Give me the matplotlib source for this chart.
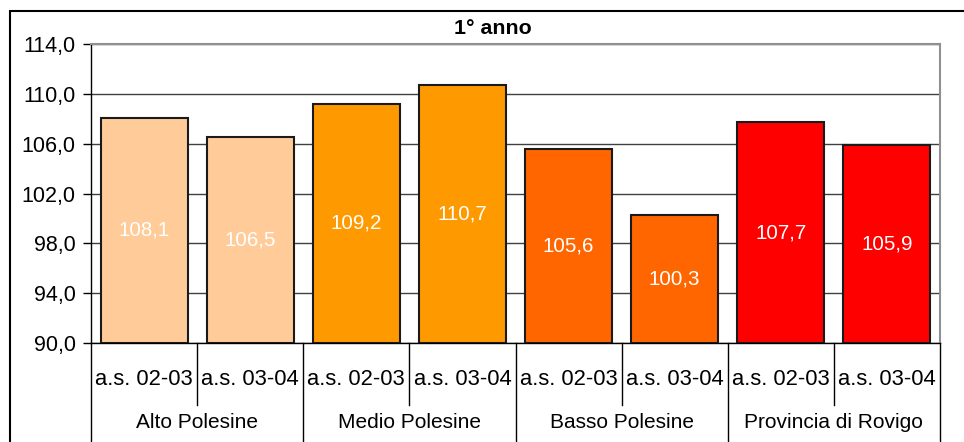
import numpy as np
import matplotlib.pyplot as plt
from matplotlib.patches import Rectangle
import matplotlib.transforms as mtransforms

plt.rcParams['font.family'] = ['Liberation Sans', 'DejaVu Sans']

groups = ['Alto Polesine', 'Medio Polesine', 'Basso Polesine', 'Provincia di Rovigo']
years = ['a.s. 02-03', 'a.s. 03-04']
values = [108.1, 106.5, 109.2, 110.7, 105.6, 100.3, 107.7, 105.9]
colors = ['#FFCC99', '#FFCC99', '#FF9900', '#FF9900', '#FF6600', '#FF6600', '#FF0000', '#FF0000']

W, H = 964, 442
fig = plt.figure(figsize=(W / 100, H / 100), dpi=100)
ax = fig.add_axes([91 / W, 1 - 343 / H, (940 - 91) / W, (343 - 44) / H])

x = np.arange(len(values))
base = 90
bars = ax.bar(x, np.array(values) - base, bottom=base, width=0.82, color=colors,
              edgecolor='#1a1a1a', linewidth=1.5, zorder=3)
for xi, v in zip(x, values):
    ax.text(xi, (v + base) / 2, f'{v:.1f}'.replace('.', ','), ha='center', va='center',
            color='white', fontsize=14.8, zorder=4)

ax.set_xlim(-0.5, len(values) - 0.5)
ax.set_ylim(90, 114)
yt = np.arange(90, 115, 4)
ax.set_yticks(yt)
ax.set_yticklabels([f'{v:.1f}'.replace('.', ',') for v in yt], fontsize=15.5)
ax.tick_params(axis='y', length=6, width=1, color='black', pad=5)
ax.yaxis.grid(True, color='#404040', linewidth=1, zorder=0)

ax.set_xticks(x)
ax.set_xticklabels(years * len(groups), fontsize=15.8)
ax.tick_params(axis='x', length=0, pad=26)
for lbl in ax.get_xticklabels():
    lbl.set_verticalalignment('center')

for s in ['top', 'right']:
    ax.spines[s].set_color('#909090')
    ax.spines[s].set_linewidth(1.5)
for s in ['left', 'bottom']:
    ax.spines[s].set_color('black')
    ax.spines[s].set_linewidth(1)

trans = mtransforms.blended_transform_factory(ax.transData, ax.transAxes)
for b in np.arange(-0.5, len(values), 1):
    if int(b + 0.5) % 2 == 0:
        ax.plot([b, b], [0, -0.34], color='black', lw=1, transform=trans, clip_on=False)
    else:
        ax.plot([b, b], [0, -0.207], color='black', lw=1, transform=trans, clip_on=False)
for i, g in enumerate(groups):
    ax.text(2 * i + 0.5, -0.265, g, ha='center', va='center', fontsize=15,
            transform=trans)

fig.text(493 / W, 1 - 29 / H, '1° anno', ha='center', va='center', fontsize=15.4,
         fontweight='bold')

fig.patches.append(Rectangle((9.5 / W, -0.1), 1.2, 1 - 10.5 / H + 0.1, transform=fig.transFigure,
                             fill=False, edgecolor='black', linewidth=1.5, zorder=10))

fig.savefig('out.png', dpi=100)
